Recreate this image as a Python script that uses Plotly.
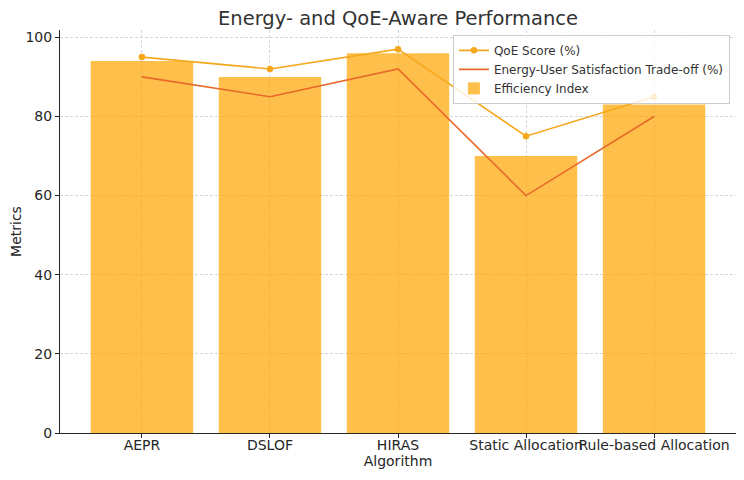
import plotly.graph_objects as go

algorithms = ["AEPR", "DSLOF", "HIRAS", "Static Allocation", "Rule-based Allocation"]
efficiency_index = [94, 90, 96, 70, 83]
qoe_score = [95, 92, 97, 75, 85]
tradeoff = [90, 85, 92, 60, 80]

x_idx = list(range(len(algorithms)))

fig = go.Figure()
fig.add_trace(go.Scatter(
    x=x_idx, y=qoe_score, name="QoE Score (%)", mode="lines+markers",
    line=dict(color="#F5A81C", width=1.6), marker=dict(size=6.5, color="#F5A81C"),
))
fig.add_trace(go.Scatter(
    x=x_idx, y=tradeoff, name="Energy-User Satisfaction Trade-off (%)", mode="lines",
    line=dict(color="#E8692A", width=1.6),
))
fig.add_trace(go.Bar(
    x=x_idx, y=efficiency_index, name="Efficiency Index",
    marker=dict(color="#FFA500", line=dict(width=0)), opacity=0.7, width=0.8,
))

# page body has an 8px default margin, so the margins compensate for it
fig.update_layout(
    width=744, height=480,
    margin=dict(l=52, r=16, t=22, b=55, autoexpand=False),
    paper_bgcolor="white", plot_bgcolor="white",
    font=dict(family="DejaVu Sans", size=14, color="#262626"),
    title=dict(text="Energy- and QoE-Aware Performance", x=0.5, xanchor="center",
               xref="paper", yref="container", y=0.994, yanchor="top",
               font=dict(size=19.5, color="#333333")),
    showlegend=True,
    legend=dict(x=0.991, y=0.988, xanchor="right", yanchor="top",
                bgcolor="rgba(255,255,255,0.8)", bordercolor="#cccccc", borderwidth=1,
                font=dict(size=12, color="#333333"), traceorder="normal",
                tracegroupgap=0, itemwidth=30),
    bargap=0.2,
)
grid = dict(showgrid=True, gridcolor="#d6d6d6", griddash="3px,2px", gridwidth=0.8)
fig.update_xaxes(
    range=[-0.64, 4.64], tickmode="array", tickvals=x_idx, ticktext=algorithms,
    tickangle=0, ticklabelstandoff=-5,
    showline=True, linecolor="#262626", linewidth=1, mirror=False,
    ticks="outside", ticklen=4, tickcolor="#262626", automargin=False,
    zeroline=False, title=dict(text="Algorithm", standoff=0, font=dict(size=14)),
    tickfont=dict(size=14), **grid,
)
fig.update_yaxes(
    range=[0, 101.85], tickvals=[0, 20, 40, 60, 80, 100],
    showline=True, linecolor="#262626", linewidth=1, mirror=False,
    ticks="outside", ticklen=4, tickcolor="#262626", automargin=False,
    zeroline=False, title=dict(text="Metrics", standoff=8, font=dict(size=14)),
    tickfont=dict(size=14), **grid,
)

fig.write_html("out.html")
